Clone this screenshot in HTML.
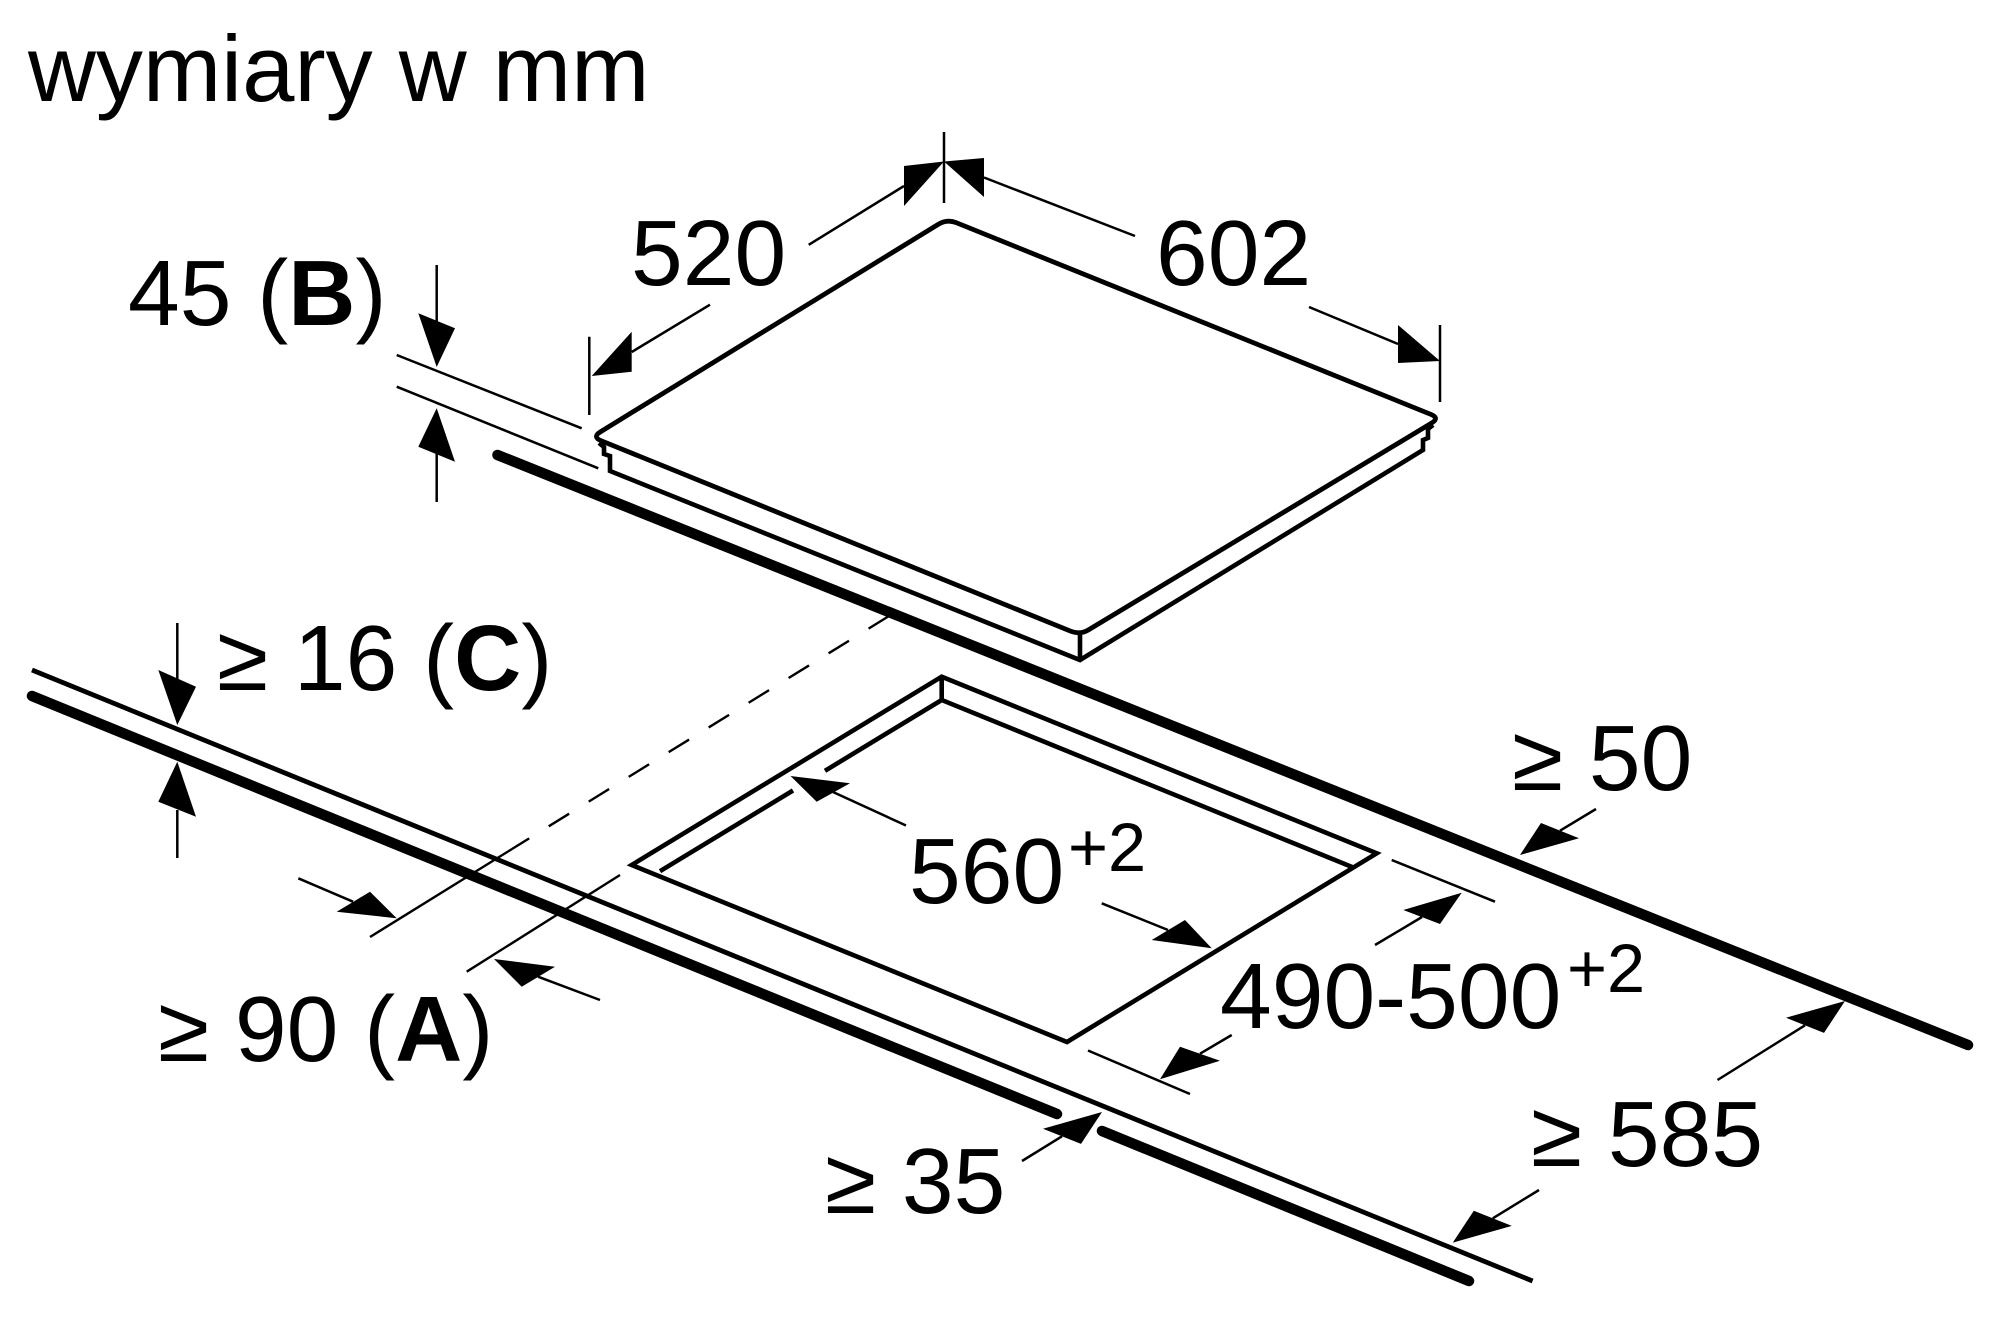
<!DOCTYPE html>
<html>
<head>
<meta charset="utf-8">
<style>
  html, body { margin: 0; padding: 0; background: #fff; }
  svg { display: block; }
  text { font-family: "Liberation Sans", Arial, sans-serif; fill: #000; }
</style>
</head>
<body>
<svg width="2000" height="1341" viewBox="0 0 2000 1341" xmlns="http://www.w3.org/2000/svg">
  <rect width="2000" height="1341" fill="#fff"/>

  <!-- Title -->
  <text x="28" y="101" font-size="94">wymiary w mm</text>

  <g fill="none" stroke="#000">
    <!-- Cooktop top surface -->
    <path d="M938.5,224.2 Q947,219 956.3,222.7 L1430.7,414.3 Q1440,418 1431.4,423.2 L1088.6,629.8 Q1080,635 1070.7,631.2 L601.3,440.8 Q592,437 600.5,431.8 Z" stroke-width="4.8" stroke-linejoin="round"/>
    <!-- Cooktop lower frame -->
    <path d="M599,443 L604,447 L604,454 L610,456 L610,471 L1080,660 L1423,450 L1423,440 L1428,438 L1428,429 L1433,425" stroke-width="4.6" stroke-linejoin="miter"/>
    <line x1="1080" y1="635" x2="1080" y2="660" stroke-width="4.6"/>

    <!-- Worktop -->
    <line x1="497.5" y1="455" x2="1968" y2="1045" stroke-width="10.5" stroke-linecap="round"/>
    <line x1="32" y1="670" x2="1532.6" y2="1281" stroke-width="4.8"/>
    <line x1="32" y1="696" x2="1057" y2="1114" stroke-width="10.5" stroke-linecap="round"/>
    <line x1="1102" y1="1131" x2="1469" y2="1281" stroke-width="10.5" stroke-linecap="round"/>

    <!-- Cutout -->
    <path d="M631.7,865 L941.7,676.7 L1376.7,853.3 L1067,1042 Z" stroke-width="4.6"/>
    <path d="M941.7,676.7 V700 L1353,867.4" stroke-width="4.6"/>
    <line x1="941.7" y1="700" x2="825" y2="770.8" stroke-width="4.6"/>
    <line x1="793" y1="790.5" x2="660" y2="871.2" stroke-width="4.6"/>

    <!-- Dashed / extension lines for >=90 -->
    <line x1="889" y1="616" x2="512" y2="849" stroke-width="2.4" stroke-dasharray="24 23"/>
    <line x1="512" y1="849" x2="370" y2="937" stroke-width="2.4"/>
    <line x1="620" y1="875" x2="466.7" y2="971.7" stroke-width="2.4"/>

    <!-- Dimension thin lines -->
    <g stroke-width="2.5">
      <!-- 45 (B) -->
      <line x1="396.7" y1="355" x2="581.7" y2="428.3"/>
      <line x1="396.7" y1="386.7" x2="598.3" y2="468.3"/>
      <line x1="436.7" y1="265" x2="436.7" y2="322"/>
      <line x1="436.7" y1="452" x2="436.7" y2="502"/>
      <!-- 16 (C) -->
      <line x1="177.3" y1="623" x2="177.3" y2="679"/>
      <line x1="177.3" y1="810" x2="177.3" y2="858"/>
      <!-- 520 -->
      <line x1="589.3" y1="336.7" x2="589.3" y2="415"/>
      <line x1="944" y1="132" x2="944" y2="203"/>
      <line x1="631.7" y1="352" x2="710" y2="304.7"/>
      <line x1="808.7" y1="244.8" x2="904" y2="186"/>
      <!-- 602 -->
      <line x1="1440" y1="325" x2="1440" y2="402"/>
      <line x1="984" y1="177.5" x2="1135" y2="236"/>
      <line x1="1309" y1="307" x2="1398" y2="344"/>
      <!-- 490-500 -->
      <line x1="1391.7" y1="860" x2="1495" y2="901.7"/>
      <line x1="1088" y1="1050.5" x2="1190" y2="1094"/>
      <line x1="1375" y1="945" x2="1422" y2="917"/>
      <line x1="1231.7" y1="1035" x2="1200" y2="1053.7"/>
      <!-- 560 -->
      <line x1="833" y1="792" x2="906" y2="825.5"/>
      <line x1="1101.7" y1="903.3" x2="1168" y2="930"/>
      <!-- >=90 -->
      <line x1="298.3" y1="878.3" x2="353" y2="901.7"/>
      <line x1="600" y1="1000" x2="538" y2="976.7"/>
      <!-- >=50 -->
      <line x1="1596" y1="809" x2="1560" y2="830.7"/>
      <!-- >=585 -->
      <line x1="1717.5" y1="1080" x2="1805" y2="1025.3"/>
      <line x1="1539" y1="1190" x2="1492.8" y2="1218.3"/>
      <!-- >=35 -->
      <line x1="1022" y1="1161" x2="1062" y2="1136.3"/>
    </g>
  </g>

  <!-- Arrowheads -->
  <g fill="#000" stroke="none">
    <polygon points="436.7,367 418.3,313.3 455,328.3"/>
    <polygon points="436.7,408.3 418.3,446.7 455,461.7"/>
    <polygon points="177.3,725 158.3,670 196,686.7"/>
    <polygon points="177.3,761.7 158.3,801.7 196,816.7"/>
    <polygon points="591.7,376 631.7,331.7 631.7,371.7"/>
    <polygon points="944,161.5 904,166 904,206"/>
    <polygon points="944,161.5 984,158 984,197"/>
    <polygon points="1440,361 1398,325 1398,363"/>
    <polygon points="790.5,776 816.7,801.7 850,783.3"/>
    <polygon points="1211.7,948.3 1151.7,940 1185,920"/>
    <polygon points="1461.7,892.7 1403.3,910 1440,924"/>
    <polygon points="1160,1079.3 1180,1046.7 1220,1060.7"/>
    <polygon points="396.7,918.3 336.7,911.7 370,891.7"/>
    <polygon points="494,959 521.7,986.7 555,966.7"/>
    <polygon points="1520,855 1541,823 1579,838.3"/>
    <polygon points="1845,1001 1786,1017.7 1824,1032.9"/>
    <polygon points="1452.8,1242.6 1473.8,1210.7 1511.8,1225.9"/>
    <polygon points="1102,1112 1043,1128.7 1081,1143.9"/>
  </g>

  <!-- Labels -->
  <g font-size="93">
    <text x="631" y="285">520</text>
    <text x="1156" y="285">602</text>
    <text x="128" y="325">45 (<tspan font-weight="bold">B</tspan>)</text>
    <text x="217" y="690">≥ 16 (<tspan font-weight="bold">C</tspan>)</text>
    <text x="158" y="1061">≥ 90 (<tspan font-weight="bold">A</tspan>)</text>
    <text x="909" y="903">560</text>
    <text x="1220" y="1028">490-500</text>
    <text x="1512" y="790">≥ 50</text>
    <text x="1531" y="1166">≥ 585</text>
    <text x="825" y="1213">≥ 35</text>
  </g>
  <text x="1068" y="871" font-size="68.5">+2</text>
  <text x="1567" y="992" font-size="68.5">+2</text>
</svg>
</body>
</html>
